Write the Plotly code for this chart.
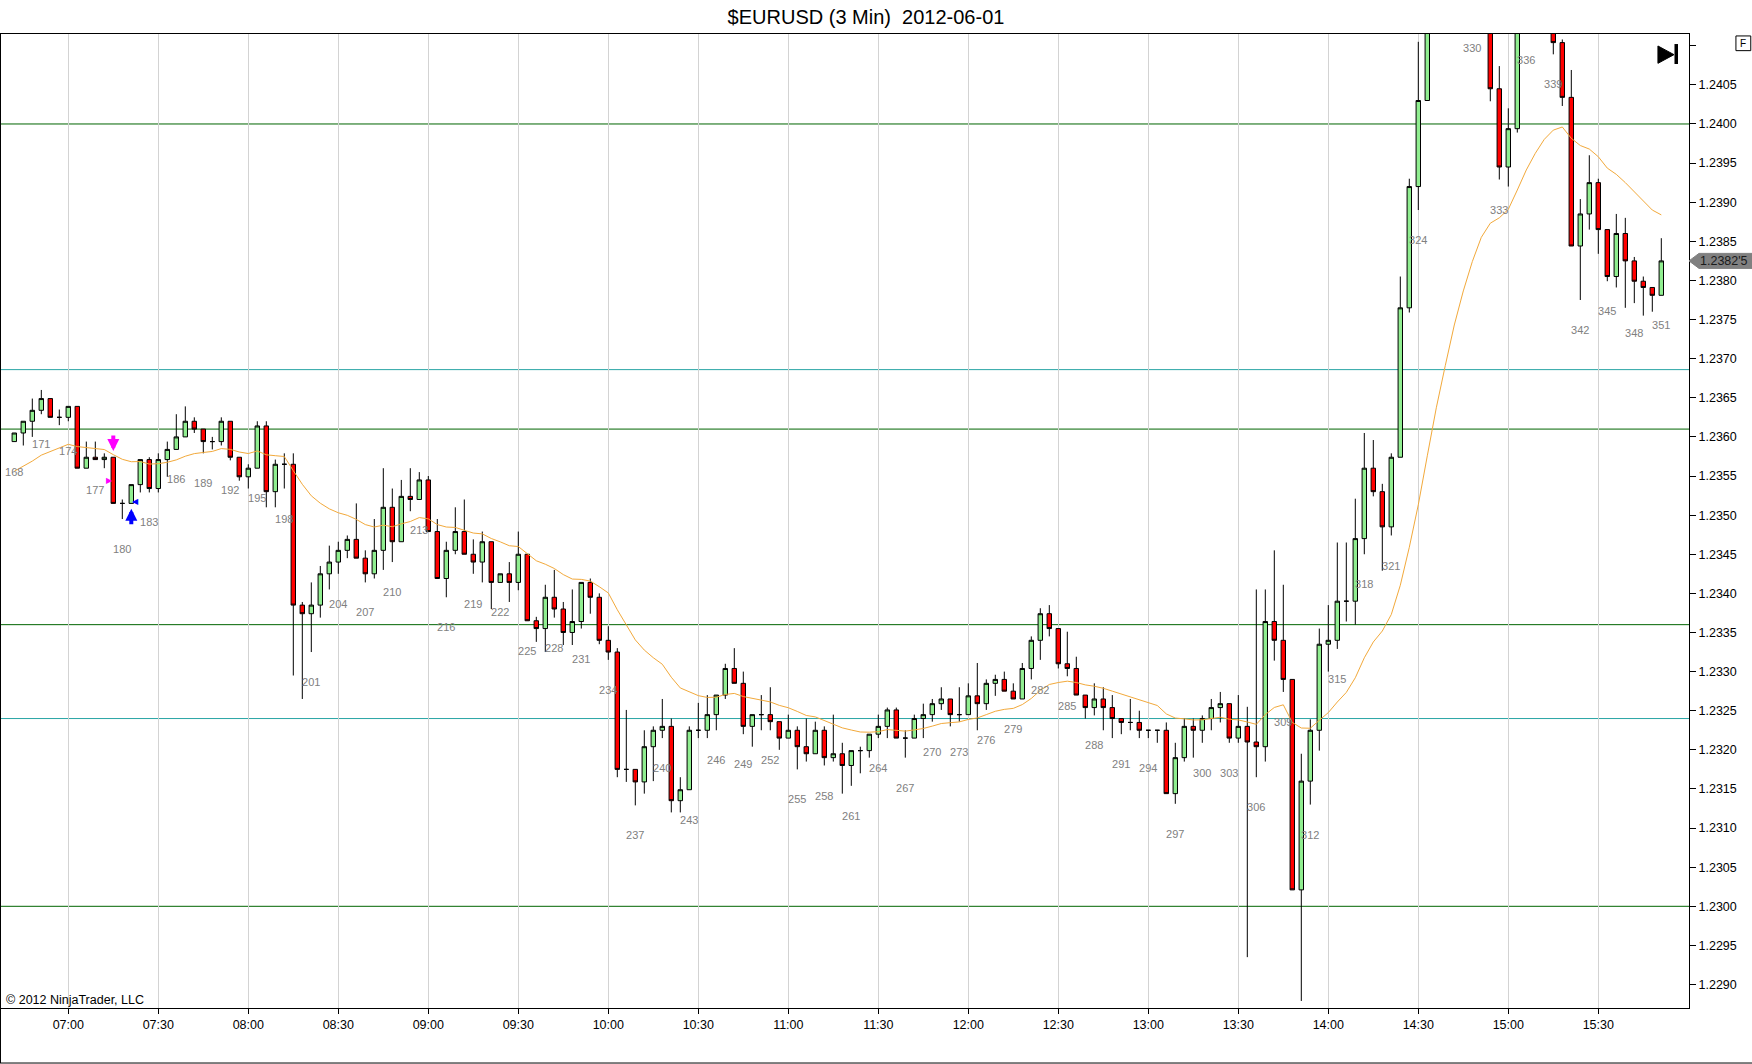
import pandas as pd
import plotly.graph_objects as go

# ---------------- data ----------------
title_text = "$EURUSD (3 Min)  2012-06-01"
first_bar_number = 168
first_bar_time = "2012-06-01 06:42"
bar_minutes = 3

opens = [
    1.23594, 1.23605, 1.23620, 1.23634, 1.23649, 1.23625, 1.23625, 1.23639, 1.23560, 1.23574,
    1.23571, 1.23574, 1.23515, 1.23515, 1.23539, 1.23571, 1.23534, 1.23571, 1.23584, 1.23600,
    1.23620, 1.23610, 1.23594, 1.23594, 1.23620, 1.23574, 1.23549, 1.23560, 1.23614, 1.23530,
    1.23565, 1.23565, 1.23385, 1.23374, 1.23385, 1.23425, 1.23440, 1.23455, 1.23469, 1.23445,
    1.23425, 1.23455, 1.23510, 1.23466, 1.23524, 1.23520, 1.23545, 1.23479, 1.23419, 1.23455,
    1.23479, 1.23450, 1.23440, 1.23466, 1.23414, 1.23425, 1.23414, 1.23450, 1.23365, 1.23355,
    1.23395, 1.23380, 1.23350, 1.23364, 1.23414, 1.23395, 1.23340, 1.23325, 1.23175, 1.23175,
    1.23159, 1.23204, 1.23225, 1.23230, 1.23135, 1.23149, 1.23225, 1.23225, 1.23245, 1.23270,
    1.23304, 1.23285, 1.23230, 1.23245, 1.23245, 1.23236, 1.23215, 1.23225, 1.23204, 1.23195,
    1.23225, 1.23190, 1.23195, 1.23180, 1.23199, 1.23199, 1.23220, 1.23230, 1.23251, 1.23215,
    1.23215, 1.23240, 1.23245, 1.23259, 1.23265, 1.23245, 1.23245, 1.23269, 1.23259, 1.23285,
    1.23290, 1.23275, 1.23265, 1.23304, 1.23340, 1.23374, 1.23355, 1.23310, 1.23304, 1.23270,
    1.23254, 1.23265, 1.23254, 1.23240, 1.23235, 1.23235, 1.23225, 1.23225, 1.23225, 1.23144,
    1.23190, 1.23230, 1.23225, 1.23240, 1.23254, 1.23259, 1.23215, 1.23230, 1.23210, 1.23204,
    1.23364, 1.23340, 1.23290, 1.23021, 1.23160, 1.23225, 1.23335, 1.23340, 1.23390, 1.23390,
    1.23470, 1.23560, 1.23530, 1.23485, 1.23574, 1.23765, 1.23920, 1.24030, 1.24170, 1.24220,
    1.24205, 1.24235, 1.24200, 1.24180, 1.24150, 1.24045, 1.23945, 1.23994, 1.24150, 1.24185,
    1.24165, 1.24150, 1.24104, 1.24034, 1.23844, 1.23885, 1.23925, 1.23865, 1.23805, 1.23860,
    1.23825, 1.23799, 1.23791, 1.23781,
]
highs = [
    1.23605, 1.23620, 1.23649, 1.23660, 1.23649, 1.23635, 1.23639, 1.23639, 1.23594, 1.23594,
    1.23579, 1.23574, 1.23520, 1.23539, 1.23571, 1.23574, 1.23579, 1.23594, 1.23629, 1.23639,
    1.23625, 1.23610, 1.23600, 1.23625, 1.23620, 1.23574, 1.23565, 1.23620, 1.23620, 1.23571,
    1.23579, 1.23579, 1.23389, 1.23414, 1.23435, 1.23461, 1.23466, 1.23474, 1.23515, 1.23455,
    1.23495, 1.23560, 1.23534, 1.23545, 1.23560, 1.23555, 1.23550, 1.23495, 1.23466, 1.23510,
    1.23520, 1.23469, 1.23479, 1.23466, 1.23425, 1.23440, 1.23479, 1.23450, 1.23370, 1.23411,
    1.23430, 1.23389, 1.23405, 1.23414, 1.23419, 1.23400, 1.23358, 1.23330, 1.23251, 1.23175,
    1.23225, 1.23230, 1.23265, 1.23240, 1.23165, 1.23230, 1.23260, 1.23270, 1.23270, 1.23310,
    1.23330, 1.23300, 1.23245, 1.23270, 1.23280, 1.23236, 1.23245, 1.23230, 1.23240, 1.23236,
    1.23230, 1.23245, 1.23209, 1.23199, 1.23204, 1.23220, 1.23245, 1.23254, 1.23254, 1.23225,
    1.23245, 1.23259, 1.23265, 1.23280, 1.23265, 1.23280, 1.23285, 1.23311, 1.23290, 1.23296,
    1.23300, 1.23285, 1.23311, 1.23345, 1.23381, 1.23385, 1.23355, 1.23351, 1.23319, 1.23270,
    1.23285, 1.23280, 1.23270, 1.23240, 1.23265, 1.23250, 1.23225, 1.23225, 1.23235, 1.23209,
    1.23240, 1.23240, 1.23244, 1.23265, 1.23274, 1.23259, 1.23270, 1.23255, 1.23405, 1.23405,
    1.23455, 1.23411, 1.23290, 1.23195, 1.23239, 1.23355, 1.23385, 1.23465, 1.23465, 1.23521,
    1.23605, 1.23596, 1.23540, 1.23579, 1.23805, 1.23930, 1.24105, 1.24185, 1.24245, 1.24275,
    1.24255, 1.24270, 1.24225, 1.24215, 1.24170, 1.24074, 1.24020, 1.24175, 1.24215, 1.24225,
    1.24195, 1.24170, 1.24108, 1.24069, 1.23904, 1.23960, 1.23930, 1.23865, 1.23885, 1.23880,
    1.23830, 1.23805, 1.23791, 1.23854,
]
lows = [
    1.23594, 1.23589, 1.23600, 1.23629, 1.23625, 1.23615, 1.23620, 1.23560, 1.23560, 1.23571,
    1.23560, 1.23515, 1.23495, 1.23515, 1.23529, 1.23529, 1.23529, 1.23549, 1.23584, 1.23600,
    1.23605, 1.23579, 1.23584, 1.23589, 1.23570, 1.23544, 1.23534, 1.23560, 1.23510, 1.23510,
    1.23534, 1.23295, 1.23265, 1.23325, 1.23369, 1.23405, 1.23425, 1.23445, 1.23445, 1.23414,
    1.23419, 1.23430, 1.23440, 1.23466, 1.23505, 1.23520, 1.23479, 1.23419, 1.23395, 1.23450,
    1.23450, 1.23425, 1.23414, 1.23380, 1.23414, 1.23389, 1.23404, 1.23365, 1.23338, 1.23325,
    1.23369, 1.23334, 1.23334, 1.23355, 1.23374, 1.23335, 1.23315, 1.23165, 1.23159, 1.23129,
    1.23144, 1.23160, 1.23215, 1.23120, 1.23120, 1.23149, 1.23215, 1.23215, 1.23225, 1.23265,
    1.23285, 1.23220, 1.23204, 1.23225, 1.23225, 1.23200, 1.23215, 1.23175, 1.23185, 1.23195,
    1.23180, 1.23185, 1.23144, 1.23154, 1.23170, 1.23190, 1.23215, 1.23215, 1.23215, 1.23190,
    1.23215, 1.23215, 1.23236, 1.23251, 1.23230, 1.23236, 1.23245, 1.23225, 1.23251, 1.23269,
    1.23275, 1.23265, 1.23265, 1.23290, 1.23315, 1.23345, 1.23304, 1.23294, 1.23270, 1.23240,
    1.23244, 1.23225, 1.23215, 1.23220, 1.23225, 1.23215, 1.23215, 1.23209, 1.23144, 1.23131,
    1.23185, 1.23190, 1.23209, 1.23225, 1.23235, 1.23209, 1.23209, 1.22935, 1.23165, 1.23185,
    1.23314, 1.23274, 1.23021, 1.22879, 1.23130, 1.23199, 1.23300, 1.23329, 1.23364, 1.23360,
    1.23450, 1.23524, 1.23429, 1.23474, 1.23574, 1.23759, 1.23890, 1.24030, 1.24145, 1.24190,
    1.24170, 1.24185, 1.24135, 1.24130, 1.24029, 1.23929, 1.23920, 1.23989, 1.24120, 1.24150,
    1.24135, 1.24089, 1.24023, 1.23844, 1.23775, 1.23865, 1.23834, 1.23799, 1.23791, 1.23765,
    1.23771, 1.23755, 1.23760, 1.23781,
]
closes = [
    1.23605, 1.23620, 1.23634, 1.23649, 1.23625, 1.23625, 1.23639, 1.23560, 1.23574, 1.23571,
    1.23574, 1.23515, 1.23515, 1.23539, 1.23571, 1.23534, 1.23571, 1.23584, 1.23600, 1.23620,
    1.23610, 1.23594, 1.23594, 1.23620, 1.23574, 1.23549, 1.23560, 1.23614, 1.23530, 1.23565,
    1.23565, 1.23385, 1.23374, 1.23385, 1.23425, 1.23440, 1.23455, 1.23469, 1.23445, 1.23425,
    1.23455, 1.23510, 1.23466, 1.23524, 1.23520, 1.23545, 1.23479, 1.23419, 1.23455, 1.23479,
    1.23450, 1.23440, 1.23466, 1.23414, 1.23425, 1.23414, 1.23450, 1.23365, 1.23355, 1.23395,
    1.23380, 1.23350, 1.23364, 1.23414, 1.23395, 1.23340, 1.23325, 1.23175, 1.23175, 1.23159,
    1.23204, 1.23225, 1.23230, 1.23135, 1.23149, 1.23225, 1.23225, 1.23245, 1.23270, 1.23304,
    1.23285, 1.23230, 1.23245, 1.23245, 1.23236, 1.23215, 1.23225, 1.23204, 1.23195, 1.23225,
    1.23190, 1.23195, 1.23180, 1.23199, 1.23199, 1.23220, 1.23230, 1.23251, 1.23215, 1.23215,
    1.23240, 1.23245, 1.23259, 1.23265, 1.23245, 1.23245, 1.23269, 1.23259, 1.23285, 1.23290,
    1.23275, 1.23265, 1.23304, 1.23340, 1.23374, 1.23355, 1.23310, 1.23304, 1.23270, 1.23254,
    1.23265, 1.23254, 1.23240, 1.23235, 1.23235, 1.23225, 1.23225, 1.23225, 1.23144, 1.23190,
    1.23230, 1.23225, 1.23240, 1.23254, 1.23259, 1.23215, 1.23230, 1.23210, 1.23204, 1.23364,
    1.23340, 1.23290, 1.23021, 1.23160, 1.23225, 1.23335, 1.23340, 1.23390, 1.23390, 1.23470,
    1.23560, 1.23530, 1.23485, 1.23574, 1.23765, 1.23920, 1.24030, 1.24170, 1.24220, 1.24205,
    1.24235, 1.24200, 1.24180, 1.24150, 1.24045, 1.23945, 1.23994, 1.24150, 1.24185, 1.24165,
    1.24150, 1.24104, 1.24034, 1.23844, 1.23885, 1.23925, 1.23865, 1.23805, 1.23860, 1.23825,
    1.23799, 1.23791, 1.23781, 1.23825,
]

ema_period = 20
ema_seed = 1.23551          # value of the average just before the first visible bar

green_levels = [1.2400, 1.2361, 1.2336, 1.2300]
teal_levels = [1.23686, 1.2324]

x_tick_labels = ["07:00", "07:30", "08:00", "08:30", "09:00", "09:30", "10:00", "10:30",
                 "11:00", "11:30", "12:00", "12:30", "13:00", "13:30", "14:00", "14:30",
                 "15:00", "15:30"]
y_tick_values = [1.2290, 1.2295, 1.2300, 1.2305, 1.2310, 1.2315, 1.2320, 1.2325,
                 1.2330, 1.2335, 1.2340, 1.2345, 1.2350, 1.2355, 1.2360, 1.2365,
                 1.2370, 1.2375, 1.2380, 1.2385, 1.2390, 1.2395, 1.2400, 1.2405, 1.2410]
y_tick_labels = [f"{v:.4f}" for v in y_tick_values[:-1]] + [""]

# trade markers: (bar number, price)
short_arrow = (179, 1.23582)
short_entry = (179, 1.23544)
long_arrow = (181, 1.23508)
long_entry = (181, 1.23518)

copyright_text = "© 2012 NinjaTrader, LLC"

# ---------------- derived ----------------
n_bars = len(opens)
assert n_bars == len(highs) == len(lows) == len(closes) == 184
times = pd.date_range(first_bar_time, periods=n_bars, freq=f"{bar_minutes}min")
bar_numbers = list(range(first_bar_number, first_bar_number + n_bars))
x_tick_values = [pd.Timestamp("2012-06-01 " + s) for s in x_tick_labels]


def t_of(bar):
    return times[bar - first_bar_number]


alpha = 2.0 / (ema_period + 1)
ema = []
prev = ema_seed
for c in closes:
    prev = prev + alpha * (c - prev)
    ema.append(prev)

Y_MIN, Y_MAX = 1.22870, 1.24115
X_MIN, X_MAX = "2012-06-01 06:37:34", "2012-06-01 16:00:14"
FONT = "Liberation Sans, Arial, sans-serif"
label_gap = 0.0004

lab_idx = [i for i, n in enumerate(bar_numbers) if n % 3 == 0]

fig = go.Figure()

fig.add_trace(go.Candlestick(
    x=times, open=opens, high=highs, low=lows, close=closes,
    increasing=dict(fillcolor="#90EE90", line=dict(color="black", width=1)),
    decreasing=dict(fillcolor="#FF0000", line=dict(color="black", width=1)),
    whiskerwidth=0, showlegend=False, hoverinfo="skip",
))

fig.add_trace(go.Scatter(
    x=times, y=ema, mode="lines",
    line=dict(color="#F2A93B", width=1), showlegend=False, hoverinfo="skip",
))

fig.add_trace(go.Scatter(
    x=[times[i] for i in lab_idx],
    y=[lows[i] - label_gap for i in lab_idx],
    text=[str(bar_numbers[i]) for i in lab_idx],
    mode="text", textfont=dict(family=FONT, size=11, color="#808080"),
    cliponaxis=True, showlegend=False, hoverinfo="skip",
))

shapes = []
for lv in green_levels:
    shapes.append(dict(type="line", xref="paper", yref="y", x0=0, x1=1, y0=lv, y1=lv,
                       line=dict(color="#006400", width=1), layer="below"))
for lv in teal_levels:
    shapes.append(dict(type="line", xref="paper", yref="y", x0=0, x1=1, y0=lv, y1=lv,
                       line=dict(color="#2AA6A6", width=1), layer="below"))

# last price marker on the right axis
plot_w = 1688.0
plot_h = 974.0
last = closes[-1]
yp = (last - Y_MIN) / (Y_MAX - Y_MIN)
hh = 7.5 / plot_h
tip = 10 / plot_w
right = 1 + 63 / plot_w
shapes.append(dict(type="path", xref="paper", yref="paper",
                   path=f"M 1,{yp} L {1+tip},{yp+hh} L {right},{yp+hh} L {right},{yp-hh} L {1+tip},{yp-hh} Z",
                   fillcolor="#808080", line=dict(color="#808080", width=1), layer="above"))
last_txt = f"{last:.5f}"
last_txt = last_txt[:-1] + "'" + last_txt[-1]

# "F" box and go-to-end icon
shapes.append(dict(type="rect", xref="paper", yref="paper",
                   x0=1.0278, x1=1.0366, y0=0.9829, y1=0.9980,
                   line=dict(color="black", width=1), fillcolor="white"))
shapes.append(dict(type="path", xref="paper", yref="paper",
                   path="M 0.9816,0.9877 L 0.9911,0.9788 L 0.9816,0.9699 Z",
                   fillcolor="black", line=dict(color="black", width=1)))
shapes.append(dict(type="rect", xref="paper", yref="paper",
                   x0=0.9914, x1=0.9935, y0=0.9692, y1=0.9897,
                   fillcolor="black", line=dict(color="black", width=0)))
# outer frame (left + bottom)
shapes.append(dict(type="line", xref="paper", yref="paper",
                   x0=-0.0003, x1=-0.0003, y0=-0.0565, y1=1.0,
                   line=dict(color="black", width=1)))
shapes.append(dict(type="line", xref="paper", yref="paper",
                   x0=-0.001, x1=1.04, y0=-0.0565, y1=-0.0565,
                   line=dict(color="black", width=1)))

annotations = [
    dict(xref="paper", yref="y", x=1 + 9 / plot_w, y=last, text=last_txt, showarrow=False,
         xanchor="left", yanchor="middle", font=dict(family=FONT, size=12.5, color="#1a1a1a")),
    dict(xref="paper", yref="paper", x=1.0322, y=0.9905, text="F", showarrow=False,
         xanchor="center", yanchor="middle", font=dict(family=FONT, size=10, color="black")),
    dict(xref="paper", yref="paper", x=0.0015, y=0.0085, text=copyright_text, showarrow=False,
         xanchor="left", yanchor="middle", font=dict(family=FONT, size=12.5, color="black")),
    dict(x=t_of(short_arrow[0]), y=short_arrow[1], xref="x", yref="y", text="",
         showarrow=True, arrowhead=2, arrowsize=0.6, arrowwidth=4, arrowcolor="#FF00FF",
         ax=0, ay=-17),
    dict(x=t_of(long_arrow[0]), y=long_arrow[1], xref="x", yref="y", text="",
         showarrow=True, arrowhead=2, arrowsize=0.6, arrowwidth=4, arrowcolor="#0000FF",
         ax=0, ay=17),
    dict(x=t_of(short_entry[0]), y=short_entry[1], xref="x", yref="y", text="▶",
         showarrow=False, xshift=-4, font=dict(size=8, color="#FF00FF", family="DejaVu Sans")),
    dict(x=t_of(long_entry[0]), y=long_entry[1], xref="x", yref="y", text="◀",
         showarrow=False, xshift=4, font=dict(size=8, color="#0000FF", family="DejaVu Sans")),
]

fig.update_layout(
    width=1752, height=1064,
    margin=dict(l=1, r=63, t=34, b=56, pad=0),
    paper_bgcolor="white", plot_bgcolor="white",
    title=dict(text=title_text, x=866 / 1752, xref="container", xanchor="center",
               y=1 - 17 / 1064, yref="container", yanchor="middle",
               font=dict(family=FONT, size=20, color="black")),
    showlegend=False,
    shapes=shapes,
    annotations=annotations,
    xaxis=dict(
        type="date", range=[X_MIN, X_MAX],
        rangeslider=dict(visible=False),
        tickmode="array", tickvals=x_tick_values, ticktext=x_tick_labels,
        showgrid=True, gridcolor="#D3D3D3", gridwidth=1,
        ticks="outside", ticklen=5, tickcolor="black",
        showline=True, linecolor="black", linewidth=1, mirror=True,
        zeroline=False,
        tickfont=dict(family=FONT, size=12.5, color="black"),
    ),
    yaxis=dict(
        side="right", range=[Y_MIN, Y_MAX],
        tickmode="array", tickvals=y_tick_values, ticktext=y_tick_labels,
        showgrid=False, zeroline=False,
        ticks="outside", ticklen=6, tickcolor="black",
        showline=True, linecolor="black", linewidth=1, mirror=True,
        tickfont=dict(family=FONT, size=12.5, color="black"),
    ),
)

fig.write_html(
    "out.html",
    config={"displayModeBar": False},
    post_script="document.body.style.margin='0px';document.body.style.overflow='hidden';",
)
